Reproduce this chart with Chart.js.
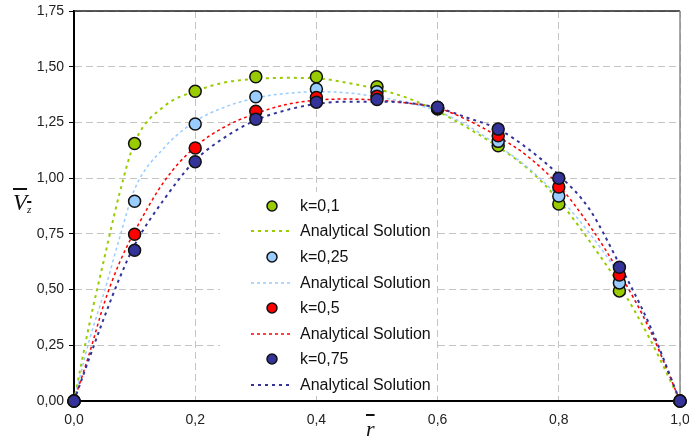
<!DOCTYPE html>
<html lang="en">
<head>
    <meta charset="UTF-8">
    <title>Velocity profiles</title>
    <script src="https://cdn.jsdelivr.net/npm/chart.js"></script>
    <style>
        body {
            margin: 0;
            background: #fff;
        }

        #wrap {
            position: relative;
            width: 689px;
            height: 439px;
        }

        .axis-title {
            position: absolute;
            font-family: "Liberation Serif", "DejaVu Serif", serif;
            font-style: italic;
            color: #111;
            text-decoration: overline;
            line-height: 1;
        }

        #legend {
            position: absolute;
            left: 220px;
            top: 192px;
            width: 214px;
            height: 204px;
            background: #fff;
            padding-top: 1px;
            box-sizing: border-box;
            font-family: "Liberation Sans", Arial, sans-serif;
            font-size: 16px;
            color: #111;
        }

        .leg-row {
            display: flex;
            align-items: center;
            height: 25.6px;
        }

        .leg-row svg {
            margin-left: 31px;
            margin-right: 7px;
        }
    </style>
</head>
<body>

<div id="wrap">
    <canvas id="chart" width="689" height="439"></canvas>
    <!-- titres des axes (barre au-dessus) -->
    <div class="axis-title" style="left:13px; top:191px; font-size:23px;">V<sub style="font-size:11px; vertical-align:-3px;">z</sub></div>
    <div class="axis-title" style="left:366px; top:418px; font-size:22px;">r</div>
    <div id="legend"></div>
</div>

<script>
    // points mesurés
    const rPoints = [0, 0.1, 0.2, 0.3, 0.4, 0.5, 0.6, 0.7, 0.8, 0.9, 1.0];
    const vK01  = [0, 1.155, 1.39, 1.455, 1.455, 1.41, 1.31, 1.145, 0.884, 0.494, 0];
    const vK025 = [0, 0.896, 1.243, 1.365, 1.40, 1.388, 1.315, 1.165, 0.92, 0.53, 0];
    const vK05  = [0, 0.748, 1.135, 1.30, 1.362, 1.368, 1.315, 1.19, 0.96, 0.565, 0];
    const vK075 = [0, 0.676, 1.074, 1.264, 1.341, 1.353, 1.318, 1.22, 1.00, 0.60, 0];

    // solutions analytiques
    const rCurve = [0, 0.025, 0.05, 0.075, 0.1, 0.15, 0.2, 0.25, 0.3, 0.35, 0.4, 0.45, 0.5, 0.55, 0.6, 0.65, 0.7, 0.75, 0.8, 0.85, 0.9, 0.95, 1.0];
    const aK01  = [0, 0.34, 0.64, 0.93, 1.16, 1.325, 1.39, 1.43, 1.445, 1.45, 1.448, 1.428, 1.40, 1.36, 1.30, 1.225, 1.14, 1.04, 0.90, 0.72, 0.52, 0.28, 0];
    const aK025 = [0, 0.27, 0.49, 0.73, 0.95, 1.14, 1.255, 1.32, 1.36, 1.38, 1.388, 1.383, 1.365, 1.34, 1.30, 1.235, 1.145, 1.045, 0.915, 0.755, 0.565, 0.33, 0];
    const aK05  = [0, 0.21, 0.44, 0.62, 0.76, 0.99, 1.14, 1.232, 1.29, 1.33, 1.35, 1.355, 1.35, 1.337, 1.315, 1.26, 1.186, 1.095, 0.967, 0.79, 0.575, 0.32, 0];
    const aK075 = [0, 0.19, 0.376, 0.55, 0.70, 0.91, 1.08, 1.185, 1.26, 1.305, 1.333, 1.343, 1.343, 1.338, 1.315, 1.27, 1.22, 1.13, 1.014, 0.863, 0.614, 0.34, 0];

    const kLabels = ["k=0,1", "k=0,25", "k=0,5", "k=0,75"];
    const curveLabel = "Analytical Solution";

    const colors = ["#99cc00", "#99ccff", "#ff0000", "#333399"];
    const dashes = [[3, 4], [3, 3], [3, 3], [3, 4]];
    const widths = [2, 1.5, 1.5, 2];

    const pointSeries = [vK01, vK025, vK05, vK075];
    const curveSeries = [aK01, aK025, aK05, aK075];

    function toXY(xs, ys) {
        return xs.map((x, i) => ({ x: x, y: ys[i] }));
    }

    const datasets = [];
    for (let i = 0; i < 4; i++) {
        datasets.push({
            label: kLabels[i],
            data: toXY(rPoints, pointSeries[i]),
            showLine: false,
            pointRadius: 6,
            pointBackgroundColor: colors[i],
            pointBorderColor: "#111",
            pointBorderWidth: 1.5,
            clip: false,
            order: 3 - i
        });
        datasets.push({
            label: curveLabel,
            data: toXY(rCurve, curveSeries[i]),
            showLine: true,
            pointRadius: 0,
            borderColor: colors[i],
            borderWidth: widths[i],
            borderDash: dashes[i],
            cubicInterpolationMode: "monotone",
            fill: false,
            order: 10 - i
        });
    }

    // cadre : haut sombre, droite gris
    const framePlugin = {
        id: "frame",
        beforeDatasetsDraw(chart) {
            const a = chart.chartArea;
            const ctx = chart.ctx;
            ctx.save();
            ctx.setLineDash([]);
            ctx.lineWidth = 1.5;
            ctx.strokeStyle = "#222";
            ctx.beginPath();
            ctx.moveTo(a.left, a.top);
            ctx.lineTo(a.right, a.top);
            ctx.stroke();
            ctx.lineWidth = 1.5;
            ctx.strokeStyle = "#8a8a8a";
            ctx.beginPath();
            ctx.moveTo(a.right, a.top);
            ctx.lineTo(a.right, a.bottom);
            ctx.stroke();
            ctx.restore();
        }
    };

    const tickFont = { family: "'Liberation Sans', Arial, sans-serif", size: 14 };

    new Chart(document.getElementById("chart"), {
        type: "scatter",
        data: { datasets: datasets },
        options: {
            responsive: false,
            animation: false,
            devicePixelRatio: 1,
            layout: { padding: { top: 11, right: 9, left: 0, bottom: 0 } },
            plugins: {
                legend: { display: false },
                tooltip: { enabled: false }
            },
            scales: {
                x: {
                    type: "linear",
                    min: 0,
                    max: 1,
                    ticks: {
                        stepSize: 0.2,
                        color: "#222",
                        font: tickFont,
                        padding: 11,
                        callback: v => v.toFixed(1).replace(".", ",")
                    },
                    grid: { color: "#c4c4c4", lineWidth: 1, drawTicks: false },
                    border: { color: "#000", width: 2, dash: [7, 4] },
                    afterFit(scale) {
                        scale.height = 38;
                        scale.paddingLeft = 0;
                        scale.paddingRight = 0;
                    }
                },
                y: {
                    min: 0,
                    max: 1.75,
                    ticks: {
                        stepSize: 0.25,
                        color: "#222",
                        font: tickFont,
                        padding: 5,
                        callback: v => v.toFixed(2).replace(".", ",")
                    },
                    grid: { color: "#c4c4c4", lineWidth: 1, tickLength: 5, tickColor: "#000", tickBorderDash: [] },
                    border: { color: "#000", width: 2, dash: [7, 4] },
                    afterFit(scale) {
                        scale.width = 74;
                        scale.paddingTop = 0;
                        scale.paddingBottom = 0;
                    }
                }
            }
        },
        plugins: [framePlugin]
    });

    // légende HTML placée dans la zone du graphique
    const legend = document.getElementById("legend");
    for (let i = 0; i < 4; i++) {
        const rowP = document.createElement("div");
        rowP.className = "leg-row";
        rowP.innerHTML = `<svg width="42" height="14"><circle cx="21" cy="7" r="5" fill="${colors[i]}" stroke="#111" stroke-width="1.5"/></svg><span>${kLabels[i]}</span>`;
        legend.appendChild(rowP);

        const rowL = document.createElement("div");
        rowL.className = "leg-row";
        rowL.innerHTML = `<svg width="42" height="14"><line x1="0" y1="7" x2="42" y2="7" stroke="${colors[i]}" stroke-width="${widths[i]}" stroke-dasharray="${dashes[i].join(" ")}"/></svg><span>${curveLabel}</span>`;
        legend.appendChild(rowL);
    }
</script>

</body>
</html>
